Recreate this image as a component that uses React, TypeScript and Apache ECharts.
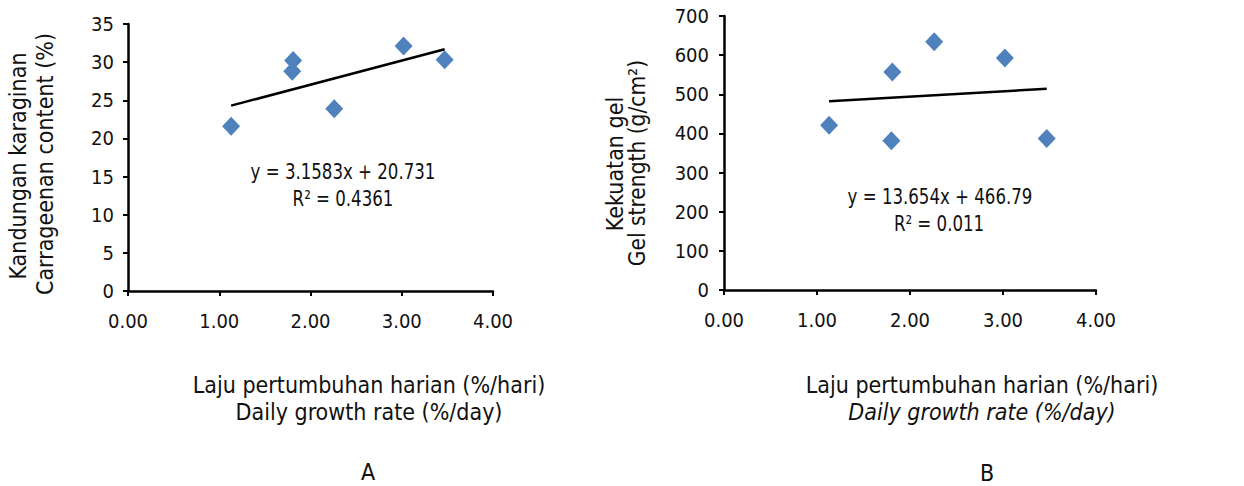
import React, { useEffect, useRef } from "react";
import * as echarts from "echarts";

const growthRate = [1.13, 1.81, 1.80, 2.26, 3.02, 3.47];
const carrageenan = [21.6, 30.2, 28.8, 23.9, 32.1, 30.3];
const gelStrength = [421, 557, 381, 634, 593, 387];
const xTicks = [0, 1, 2, 3, 4];
const fitA = { slope: 3.1583, intercept: 20.731, r2: "0.4361" };
const fitB = { slope: 13.654, intercept: 466.79, r2: "0.011" };

const FONT = "'DejaVu Sans Condensed', 'Noto Sans', sans-serif";
const BLUE = "#4F81BD";

function trend(fit: { slope: number; intercept: number }) {
  const xs = [Math.min(...growthRate), Math.max(...growthRate)];
  return xs.map((x) => [x, fit.slope * x + fit.intercept]);
}

export default function App() {
  const ref = useRef<HTMLDivElement>(null);
  useEffect(() => {
    document.body.style.margin = "0";
    const chart = echarts.init(ref.current!, undefined, { renderer: "svg" });
    const axisCommon = {
      axisLine: { show: true, lineStyle: { color: "#000", width: 2.5 } },
      axisTick: { show: true, inside: false, length: 5, lineStyle: { color: "#000", width: 2 } },
      splitLine: { show: false },
      axisLabel: { color: "#111", fontFamily: FONT, fontSize: 20 },
    };
    const xAxis = (gi: number) => ({
      type: "value",
      gridIndex: gi,
      min: xTicks[0],
      max: xTicks[xTicks.length - 1],
      interval: 1,
      ...axisCommon,
      axisLabel: { ...axisCommon.axisLabel, margin: 20, formatter: (v: number) => v.toFixed(2) },
    });
    const txt = (x: number, y: number, text: string, size: number, extra: any = {}, italic = false) => ({
      type: "text", x, y, ...extra,
      style: { text, font: `${italic ? "italic " : ""}${size}px ${FONT}`, fill: "#111", align: "center", verticalAlign: "middle" },
    });
    const eqScale = { scaleX: 0.88 };
    chart.setOption({
      animation: false,
      grid: [
        { left: 128, top: 24, width: 365, height: 267 },
        { left: 724, top: 16, width: 372, height: 274 },
      ],
      xAxis: [xAxis(0), xAxis(1)],
      yAxis: [
        { type: "value", gridIndex: 0, min: 0, max: 35, interval: 5, ...axisCommon, axisLabel: { ...axisCommon.axisLabel, margin: 14 } },
        { type: "value", gridIndex: 1, min: 0, max: 700, interval: 100, ...axisCommon, axisLabel: { ...axisCommon.axisLabel, margin: 15 } },
      ],
      series: [
        {
          type: "line", xAxisIndex: 0, yAxisIndex: 0, data: trend(fitA), showSymbol: false,
          lineStyle: { color: "#000", width: 2.5 }, z: 3,
        },
        {
          type: "scatter", xAxisIndex: 0, yAxisIndex: 0, symbol: "diamond", symbolSize: [18, 19],
          itemStyle: { color: BLUE, opacity: 1 }, data: growthRate.map((x, i) => [x, carrageenan[i]]), z: 2,
        },
        {
          type: "line", xAxisIndex: 1, yAxisIndex: 1, data: trend(fitB), showSymbol: false,
          lineStyle: { color: "#000", width: 2.5 }, z: 3,
        },
        {
          type: "scatter", xAxisIndex: 1, yAxisIndex: 1, symbol: "diamond", symbolSize: [18, 19],
          itemStyle: { color: BLUE, opacity: 1 }, data: growthRate.map((x, i) => [x, gelStrength[i]]), z: 2,
        },
      ],
      graphic: [
        txt(343, 172, `y = ${fitA.slope}x + ${fitA.intercept}`, 21, eqScale),
        txt(343, 199, `R² = ${fitA.r2}`, 21, eqScale),
        txt(940, 197, `y = ${fitB.slope}x + ${fitB.intercept}`, 21, eqScale),
        txt(939, 224, `R² = ${fitB.r2}`, 21, eqScale),
        txt(369, 385, "Laju pertumbuhan harian (%/hari)", 23),
        txt(369, 412, "Daily growth rate (%/day)", 23),
        txt(368, 472, "A", 23),
        txt(982, 385, "Laju pertumbuhan harian (%/hari)", 23),
        txt(982, 412, "Daily growth rate (%/day)", 23, {}, true),
        txt(987, 473, "B", 23),
        txt(18, 166, "Kandungan karaginan", 23, { rotation: Math.PI / 2 }),
        txt(45, 164, "Carrageenan content (%)", 23, { rotation: Math.PI / 2 }),
        txt(615, 164, "Kekuatan gel", 23, { rotation: Math.PI / 2 }),
        txt(637, 163, "Gel strength (g/cm²)", 22.5, { rotation: Math.PI / 2 }),
      ],
    });
    return () => chart.dispose();
  }, []);
  return <div ref={ref} style={{ width: 1244, height: 486 }} />;
}
